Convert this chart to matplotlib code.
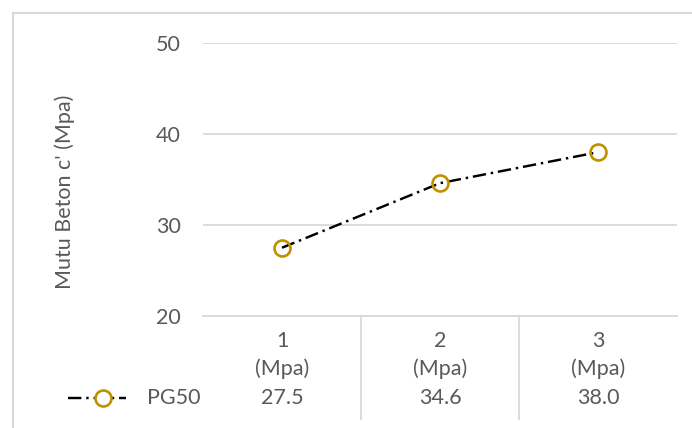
import matplotlib.pyplot as plt
from matplotlib.lines import Line2D

categories = ["1\n(Mpa)", "2\n(Mpa)", "3\n(Mpa)"]
series_name = "PG50"
values = [27.5, 34.6, 38.0]
value_labels = ["27.5", "34.6", "38.0"]
y_ticks = [20, 30, 40, 50]

W, H = 692, 428
text_col = "#595959"
grid_col = "#D9D9D9"
marker_col = "#BF9000"
dash = (0, (5.5, 2.0, 1, 2.0))
fs = 15.5

plt.rcParams["font.family"] = ["Lato", "DejaVu Sans"]

fig = plt.figure(figsize=(W / 100, H / 100), dpi=100)
ax = fig.add_axes([203 / W, 1 - 316 / H, 474 / W, 273 / H])

x = list(range(len(categories)))
ax.plot(x, values, color="black", lw=1.75, linestyle=dash,
        marker="o", markersize=11.5, markerfacecolor="none",
        markeredgecolor=marker_col, markeredgewidth=1.9, zorder=3)

ax.set_xlim(-0.5, len(categories) - 0.5)
ax.set_ylim(20, 50)
ax.set_yticks(y_ticks)
ax.grid(axis="y", color=grid_col, lw=1.3)
ax.set_axisbelow(True)
for side in ["top", "right", "left"]:
    ax.spines[side].set_visible(False)
ax.spines["bottom"].set_color(grid_col)
ax.spines["bottom"].set_linewidth(1.3)

ax.set_xticks(x)
ax.set_xticklabels(categories, linespacing=1.45)
ax.tick_params(axis="x", length=0, pad=11, labelsize=fs, labelcolor=text_col)
ax.tick_params(axis="y", length=0, pad=16, labelsize=fs, labelcolor=text_col)

# data table: separators and values
xt = ax.get_xaxis_transform()
ax.vlines([i + 0.5 for i in x[:-1]], -0.38, 0, transform=xt,
          color=grid_col, lw=1.3, clip_on=False)
for i, lab in zip(x, value_labels):
    ax.text(i, -(398 - 316) / 273, lab, transform=xt, ha="center",
            va="center", fontsize=fs, color=text_col)

# legend key in the table row
ky = 1 - 398 / H
fig.add_artist(Line2D([68 / W, 126 / W], [ky, ky], color="black", lw=1.75,
                      linestyle=dash))
fig.add_artist(Line2D([103 / W], [ky], marker="o", markersize=11.5,
                      markerfacecolor="white", markeredgecolor=marker_col,
                      markeredgewidth=1.9, linestyle="none"))
fig.text(147 / W, ky, series_name, ha="left", va="center", fontsize=fs,
         color=text_col)

fig.text(65 / W, 1 - 192 / H, "Mutu Beton c' (Mpa)", rotation=90,
         ha="center", va="center", fontsize=fs, color=text_col)

# chart border (top and left visible)
fig.add_artist(Line2D([13 / W, 1.0], [1 - 13 / H, 1 - 13 / H], color=grid_col, lw=1.5))
fig.add_artist(Line2D([13 / W, 13 / W], [1 - 13 / H, 0], color=grid_col, lw=1.5))

fig.savefig("out.png", dpi=100)
